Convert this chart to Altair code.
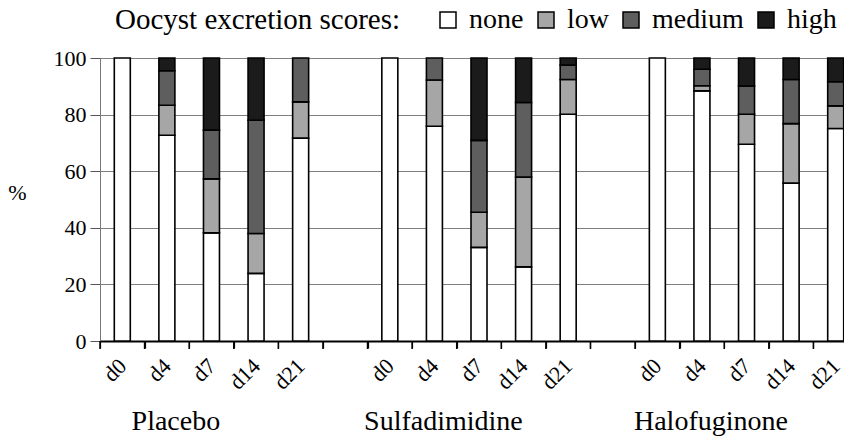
import altair as alt
import pandas as pd

groups = ["Placebo", "Sulfadimidine", "Halofuginone"]
days = ["d0", "d4", "d7", "d14", "d21"]
scores = ["none", "low", "medium", "high"]
score_colors = ["#ffffff", "#a6a6a6", "#5e5e5e", "#1b1b1b"]

none_pct = {
    "Placebo": [100, 72.7, 38.2, 23.9, 71.7],
    "Sulfadimidine": [100, 75.9, 33.1, 26.2, 80.1],
    "Halofuginone": [100, 88.4, 69.5, 55.8, 75.1],
}
low_pct = {
    "Placebo": [0, 10.6, 19.1, 14.1, 12.8],
    "Sulfadimidine": [0, 16.3, 12.4, 31.7, 12.3],
    "Halofuginone": [0, 1.8, 10.6, 21.0, 8.0],
}
medium_pct = {
    "Placebo": [0, 12.2, 17.2, 40.0, 15.5],
    "Sulfadimidine": [0, 7.8, 25.4, 26.4, 5.1],
    "Halofuginone": [0, 5.8, 10.0, 15.6, 8.5],
}
high_pct = {
    "Placebo": [0, 4.5, 25.5, 22.0, 0],
    "Sulfadimidine": [0, 0, 29.1, 15.7, 2.5],
    "Halofuginone": [0, 4.0, 9.9, 7.6, 8.4],
}

series = {"none": none_pct, "low": low_pct, "medium": medium_pct, "high": high_pct}

# x slots: each group's days, with an empty slot between groups
order = []
for i, g in enumerate(groups):
    if i > 0:
        order.append(f"gap{i}|")
    for d in days:
        order.append(f"{g}|{d}")

rows = []
for g in groups:
    for j, d in enumerate(days):
        for k, s in enumerate(scores):
            v = series[s][g][j]
            if v > 0:
                rows.append({"key": f"{g}|{d}", "score": s, "rank": k, "pct": v})
df = pd.DataFrame(rows)

lab = pd.DataFrame({"key": [f"{g}|d4" for g in groups], "name": groups})
slots = pd.DataFrame({"key": order})

FONT = "Liberation Serif, Times New Roman, serif"
xscale = alt.Scale(domain=order, range=[0, 758], paddingInner=0, paddingOuter=0)
xaxis = alt.Axis(
    title=None,
    labelExpr="split(datum.label, '|')[1]",
    labelAngle=-45,
    labelAlign="right",
    labelBaseline="middle",
    labelFontSize=22,
    labelPadding=14,
    tickBand="extent",
    tickSize=7,
    tickWidth=1.2,
    tickColor="black",
    ticks=True,
    domainColor="black",
    domainWidth=2,
    grid=False,
)
x_enc = alt.X("key:N", sort=order, scale=xscale, axis=xaxis)

bars = alt.Chart(df).mark_bar(size=16, stroke="black", strokeWidth=1.6).encode(
    x=x_enc,
    y=alt.Y(
        "pct:Q",
        stack="zero",
        scale=alt.Scale(domain=[0, 100], nice=False),
        axis=alt.Axis(
            title="%",
            titleAngle=0,
            titleX=-83,
            titleY=134,
            titleAlign="center",
            titleBaseline="middle",
            titleFontSize=22,
            values=[0, 20, 40, 60, 80, 100],
            labelFontSize=22,
            labelPadding=4,
            tickSize=10,
            tickColor="#555555",
            domainColor="#777777",
            gridColor="#7f7f7f",
            gridWidth=1,
        ),
    ),
    color=alt.Color(
        "score:N",
        scale=alt.Scale(domain=scores, range=score_colors),
        legend=alt.Legend(
            title="Oocyst excretion scores:",
            orient="none",
            legendX=15,
            legendY=-52,
            direction="horizontal",
            titleOrient="left",
            titleFontSize=29,
            titleLimit=600,
            titlePadding=33,
            labelFontSize=28,
            labelOffset=7,
            labelLimit=300,
            labelBaseline="middle",
            columnPadding=8,
            symbolType="square",
            symbolSize=256,
            symbolStrokeColor="black",
            symbolStrokeWidth=1.5,
            symbolOpacity=1,
        ),
    ),
    order=alt.Order("rank:Q", sort="ascending"),
)

# tick marks at the slot boundaries along the x axis
slot_ticks = alt.Chart(slots).mark_rule(color="black", strokeWidth=1.5).encode(
    x=alt.X("key:N", sort=order, scale=xscale, axis=xaxis, bandPosition=0),
    y=alt.value(283),
    y2=alt.value(291),
)

labels = alt.Chart(lab).mark_text(
    font=FONT, fontSize=28, color="black", baseline="alphabetic", align="center", dx=9
).encode(
    x=x_enc,
    y=alt.value(372),
    text="name:N",
)

chart = (
    alt.layer(bars, slot_ticks, labels)
    .properties(
        width=744,
        height=283,
        padding={"left": 92, "top": 50, "right": 0, "bottom": 96},
        autosize=alt.AutoSizeParams(type="none"),
    )
    .configure(font=FONT)
    .configure_view(stroke=None)
    .configure_axis(labelFont=FONT, titleFont=FONT, labelColor="black",
                    titleColor="black", titleFontWeight="normal")
    .configure_legend(labelFont=FONT, titleFont=FONT, labelColor="black",
                      titleColor="black", titleFontWeight="normal")
)

chart.save("out.html", embed_options={"renderer": "svg", "actions": False})
